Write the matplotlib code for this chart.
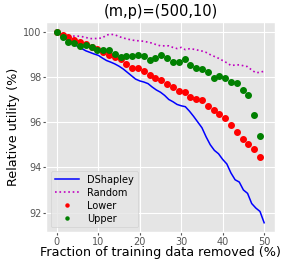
import matplotlib
matplotlib.use("Agg")
import matplotlib.pyplot as plt
import numpy as np

plt.style.use("ggplot")

# fraction removed (%) for the curves, read every 1 %
curve_x = list(range(0, 51))
dshapley = [100.00, 99.87, 99.74, 99.60, 99.45, 99.35, 99.25, 99.15, 99.08, 99.01,
            98.95, 98.83, 98.72, 98.65, 98.57, 98.47, 98.35, 98.20, 98.05, 97.90,
            97.82, 97.77, 97.70, 97.55, 97.42, 97.32, 97.18, 97.00, 96.90, 96.78,
            96.72, 96.68, 96.48, 96.25, 96.00, 95.75, 95.35, 95.00, 94.75, 94.60,
            94.35, 94.15, 93.75, 93.45, 93.35, 93.00, 92.85, 92.40, 92.20, 92.05,
            91.55]
random_ = [100.00, 99.85, 99.80, 99.78, 99.80, 99.80, 99.78, 99.74, 99.69, 99.69,
           99.70, 99.72, 99.85, 99.88, 99.86, 99.78, 99.72, 99.67, 99.63, 99.60,
           99.59, 99.57, 99.53, 99.49, 99.42, 99.37, 99.37, 99.37, 99.30, 99.25,
           99.30, 99.20, 99.24, 99.22, 99.18, 99.14, 99.08, 98.98, 98.90, 98.82,
           98.72, 98.62, 98.50, 98.52, 98.53, 98.49, 98.45, 98.30, 98.18, 98.20,
           98.25]

# bound points every 1.4 %
bound_x = [round(1.4 * i, 1) for i in range(36)]
lower = [100.00, 99.87, 99.74, 99.63, 99.55, 99.43, 99.34, 99.22, 99.09, 98.97,
         98.88, 98.77, 98.55, 98.41, 98.37, 98.27, 98.09, 97.94, 97.84, 97.70,
         97.56, 97.38, 97.32, 97.10, 97.04, 96.98, 96.70, 96.55, 96.34, 96.17,
         95.89, 95.57, 95.26, 95.02, 94.81, 94.44]
upper = [100.00, 99.78, 99.55, 99.51, 99.38, 99.40, 99.33, 99.19, 99.19, 99.19,
         99.02, 98.87, 98.90, 98.90, 98.96, 98.90, 98.73, 98.85, 98.97, 98.85,
         98.66, 98.65, 98.80, 98.52, 98.40, 98.34, 98.21, 97.94, 98.02, 97.94,
         97.75, 97.71, 97.42, 97.18, 96.31, 95.39]

fig = plt.figure(figsize=(2.83, 2.59), dpi=100)
ax = fig.add_axes([0.164, 0.103, 0.806, 0.812])

ax.plot(curve_x, dshapley, color="b", linewidth=1.1, label="DShapley")
ax.plot(curve_x, random_, color="m", linestyle=":", linewidth=1.2, label="Random")
ax.plot(bound_x, lower, "o", color="r", markersize=4, label="Lower")
ax.plot(bound_x, upper, "o", color="g", markersize=4, label="Upper")

ax.set_xticks([0, 10, 20, 30, 40, 50])
ax.set_yticks([92, 94, 96, 98, 100])
ax.tick_params(labelsize=7, length=2, pad=1.5)
ax.set_xlabel("Fraction of training data removed (%)", fontsize=9.2, color="black", labelpad=-1)
ax.set_ylabel("Relative utility (%)", fontsize=9.2, color="black", labelpad=2)
ax.set_title("(m,p)=(500,10)", fontsize=10.5, pad=4)
ax.legend(loc="lower left", fontsize=7, markerscale=0.55, handlelength=2.5,
          framealpha=0.8, borderpad=0.4, labelspacing=0.3)

fig.savefig("out.png", dpi=100)
